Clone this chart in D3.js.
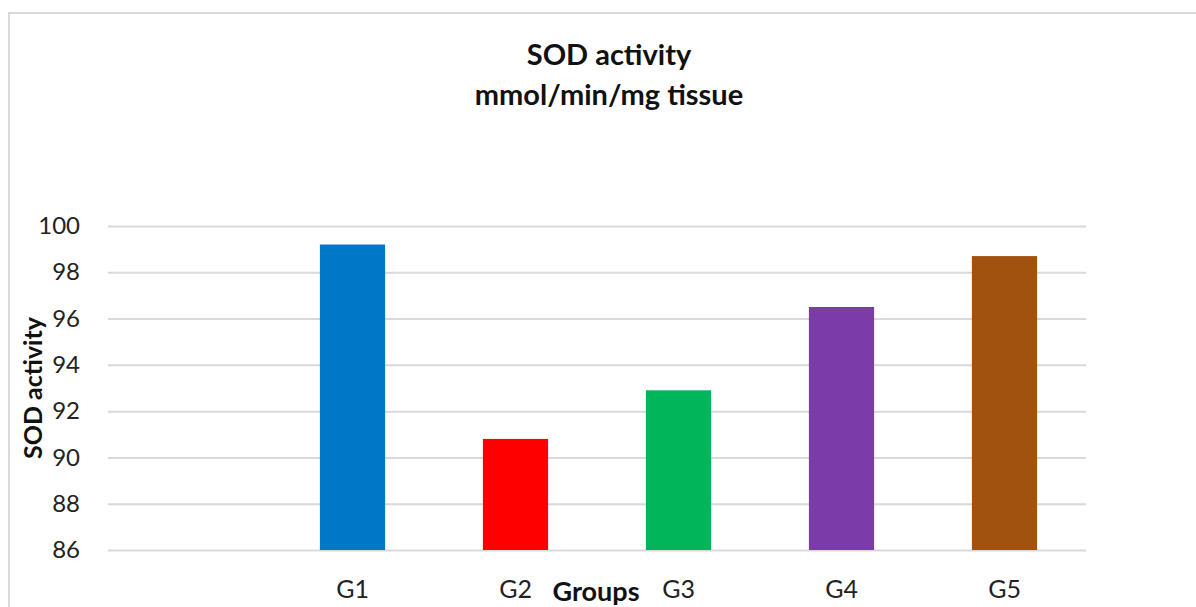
<!DOCTYPE html>
<html><head><meta charset="utf-8">
<script src="https://cdn.jsdelivr.net/npm/d3@7"></script>
<style>html,body{margin:0;padding:0;background:#fff;}svg{display:block;}</style>
</head><body>
<svg id="chart" width="1196" height="607"></svg>
<script>
const categories = ["", "G1", "G2", "G3", "G4", "G5"];
const values = [null, 99.2, 90.8, 92.9, 96.5, 98.7];
const colors = ["#ffffff", "#0078C8", "#FF0000", "#00B55A", "#7B3BA8", "#A0520E"];
const yTicks = [86, 88, 90, 92, 94, 96, 98, 100];
const titleLines = ["SOD activity", "mmol/min/mg tissue"];
const yTitle = "SOD activity";
const xTitle = "Groups";

const font = "Lato, 'Open Sans', sans-serif";
const svg = d3.select("#chart");
const W = 1196, H = 607;
const pLeft = 108, pRight = 1086, pTop = 226, pBottom = 550;

svg.append("rect").attr("x", 9).attr("y", 13).attr("width", W + 20).attr("height", H + 20)
  .attr("fill", "#fff").attr("stroke", "#d9d9d9").attr("stroke-width", 2);

const x = d3.scaleBand().domain(categories).range([pLeft, pRight]).paddingInner(0.6).paddingOuter(0.3);
const y = d3.scaleLinear().domain([86, 100]).range([pBottom, pTop]);

// gridlines
const yAxis = d3.axisLeft(y).tickValues(yTicks).tickSize(-(pRight - pLeft)).tickFormat(d3.format("d"));
const gy = svg.append("g").attr("transform", `translate(${pLeft},0)`).call(yAxis);
gy.select(".domain").remove();
gy.selectAll(".tick line").attr("stroke", "#d9d9d9").attr("stroke-width", 2);
gy.selectAll(".tick text").attr("x", -28).attr("font-family", font).attr("font-size", 24)
  .attr("fill", "#222");

// bars
svg.append("g").selectAll("rect").data(categories.map((c, i) => ({c, v: values[i], col: colors[i]})).filter(d => d.v != null))
  .join("rect")
  .attr("x", d => x(d.c)).attr("width", x.bandwidth())
  .attr("y", d => y(d.v)).attr("height", d => y(86) - y(d.v))
  .attr("fill", d => d.col);

// x axis
const xAxis = d3.axisBottom(x).tickSize(0).tickPadding(0);
const gx = svg.append("g").attr("transform", `translate(0,${pBottom})`).call(xAxis);
gx.select(".domain").remove();
gx.selectAll(".tick text").attr("y", 48).attr("dy", 0).attr("font-family", font).attr("font-size", 25).attr("fill", "#222");

// titles
const t = svg.append("text").attr("text-anchor", "middle").attr("font-family", font)
  .attr("font-weight", "bold").attr("font-size", 29).attr("fill", "#111");
titleLines.forEach((l, i) => t.append("tspan").attr("x", 609).attr("y", 65 + i * 40).text(l));

svg.append("text").attr("transform", `translate(42,388) rotate(-90)`).attr("text-anchor", "middle")
  .attr("font-family", font).attr("font-weight", "bold").attr("font-size", 25).attr("fill", "#111").text(yTitle);

svg.append("text").attr("x", 596).attr("y", 601).attr("text-anchor", "middle")
  .attr("font-family", font).attr("font-weight", "bold").attr("font-size", 27).attr("fill", "#111").text(xTitle);
</script>
</body></html>
